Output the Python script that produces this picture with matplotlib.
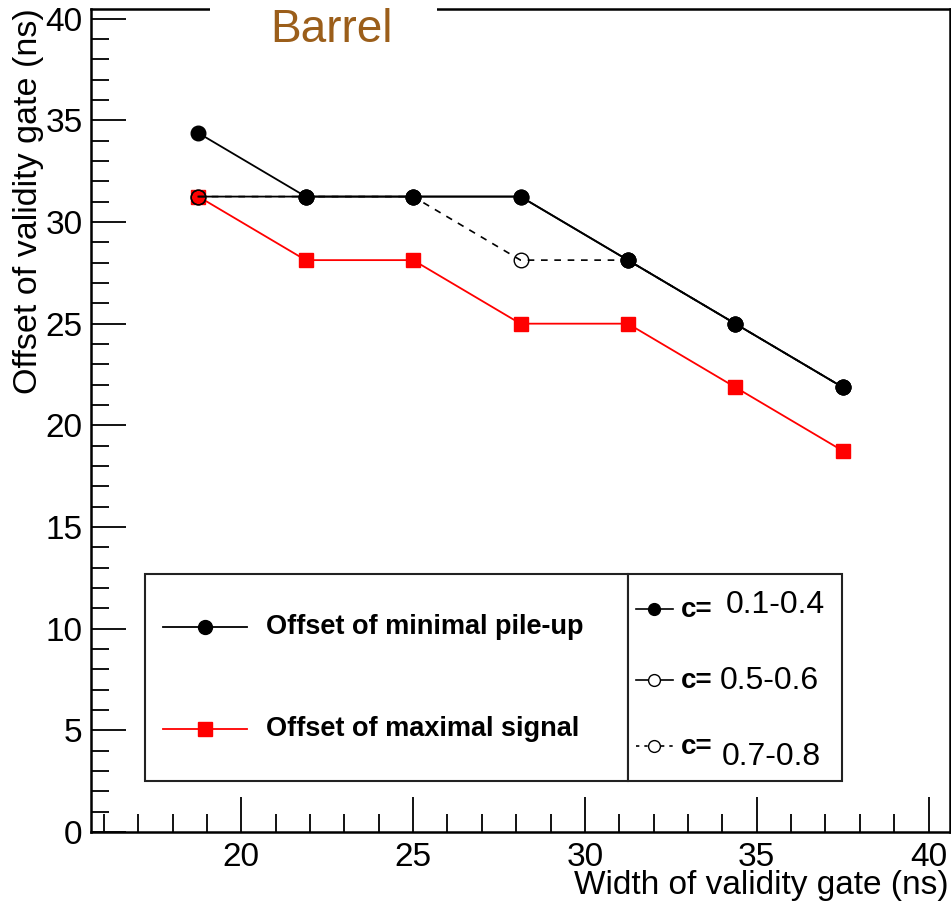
"""Offset vs width of validity gate (Barrel)."""

import matplotlib
matplotlib.use("Agg")
import matplotlib.pyplot as plt
from matplotlib.lines import Line2D
from matplotlib.patches import Rectangle
from matplotlib.ticker import MultipleLocator

plt.rcParams['font.family'] = ['Liberation Sans', 'DejaVu Sans']

# data (ns)
width = [18.75, 21.875, 25.0, 28.125, 31.25, 34.375, 37.5]
offset_pileup = [34.375, 31.25, 31.25, 31.25, 28.125, 25.0, 21.875]
offset_signal = [31.25, 28.125, 28.125, 25.0, 25.0, 21.875, 18.75]
offset_c56 = [31.25, 31.25, 31.25, 31.25, 28.125, 25.0, 21.875]
offset_c78 = [31.25, 31.25, 31.25, 28.125, 28.125, 25.0, 21.875]

main_labels = ["Offset of minimal pile-up", "Offset of maximal signal"]
c_ranges = ["0.1-0.4", "0.5-0.6", "0.7-0.8"]

W, H = 951, 908


def fx(px):
    return px / W


def fy(py):
    return 1 - py / H


fig = plt.figure(figsize=(W / 100, H / 100), dpi=100)
ax = fig.add_axes([fx(91), fy(832), fx(950) - fx(91), fy(8.5) - fy(832)])

ax.plot(width, offset_signal, color='red', lw=1.3, marker='s', ms=10,
        mec='red', mfc='red', zorder=2)
ax.plot(width, offset_c56, color='black', lw=1.3, marker='o', ms=10.5,
        mec='black', mfc='none', zorder=3)
ax.plot(width, offset_c78, color='black', lw=1.2, ls=(0, (4, 4)), marker='o',
        ms=10.5, mec='black', mfc='none', zorder=3)
ax.plot(width, offset_pileup, color='black', lw=1.3, marker='o', ms=10.5,
        mec='black', mfc='black', zorder=4)

ax.set_xlim(15.625, 40.625)
ax.set_ylim(0, 40.5)
ax.xaxis.set_major_locator(MultipleLocator(5))
ax.xaxis.set_minor_locator(MultipleLocator(1))
ax.yaxis.set_major_locator(MultipleLocator(5))
ax.yaxis.set_minor_locator(MultipleLocator(1))
ax.tick_params(which='both', direction='in', top=False, right=False,
               width=1.3, labelsize=24)
ax.tick_params(which='major', length=25)
ax.tick_params(which='minor', length=13)
ax.tick_params(axis='x', pad=7)
ax.tick_params(axis='y', pad=6)
for sp in ax.spines.values():
    sp.set_linewidth(1.8)

fig.text(fx(949), fy(894), "Width of validity gate (ns)", ha='right',
         va='baseline', fontsize=24)
fig.text(fx(29), fy(8), "Offset of validity gate (ns)", ha='center',
         va='top', rotation=90, fontsize=24.5)

# title with white background cutting the frame
fig.add_artist(Rectangle((fx(210), fy(24)), fx(437) - fx(210), fy(0) - fy(24),
                         transform=fig.transFigure, facecolor='white',
                         edgecolor='none', zorder=5))
fig.text(fx(332), fy(30), "Barrel", ha='center', va='center', fontsize=33,
         color='#9B5E1A', zorder=6)

# legend boxes
for x0, x1 in [(145, 628), (628, 842)]:
    fig.add_artist(Rectangle((fx(x0), fy(781)), fx(x1) - fx(x0), fy(574) - fy(781),
                             transform=fig.transFigure, facecolor='white',
                             edgecolor='#222222', lw=1.5, zorder=5))

main_styles = [dict(color='black', marker='o', ms=10, mfc='black', mec='black'),
               dict(color='red', marker='s', ms=10, mfc='red', mec='red')]
for lab, st, yy in zip(main_labels, main_styles, [627, 729]):
    fig.add_artist(Line2D([fx(163), fx(247)], [fy(yy), fy(yy)], lw=1.3,
                          transform=fig.transFigure, zorder=6, color=st['color']))
    fig.add_artist(Line2D([fx(205)], [fy(yy)], ls='none', marker=st['marker'],
                          ms=st['ms'], mfc=st['mfc'], mec=st['mec'],
                          transform=fig.transFigure, zorder=7))
    fig.text(fx(266), fy(yy), lab, ha='left', va='center', fontsize=19.5,
             fontweight='bold', zorder=7)

c_styles = [dict(ls='-', mfc='black'), dict(ls='-', mfc='white'),
            dict(ls=(0, (2, 3)), mfc='white')]
for rng, st, yy, ty, tx in zip(c_ranges, c_styles, [609, 680, 746],
                               [605, 681, 757], [726, 720, 722]):
    fig.add_artist(Line2D([fx(636), fx(673)], [fy(yy), fy(yy)], lw=1.2,
                          ls=st['ls'], color='black',
                          transform=fig.transFigure, zorder=6))
    fig.add_artist(Line2D([fx(654)], [fy(yy)], ls='none', marker='o', ms=8.5,
                          mfc=st['mfc'], mec='black', mew=1.0,
                          transform=fig.transFigure, zorder=7))
    fig.text(fx(681), fy(yy + 1), "c=", ha='left', va='center', fontsize=20,
             fontweight='bold', zorder=7)
    fig.text(fx(tx), fy(ty), rng, ha='left', va='center', fontsize=23, zorder=7)

fig.savefig("out.png", dpi=100)
